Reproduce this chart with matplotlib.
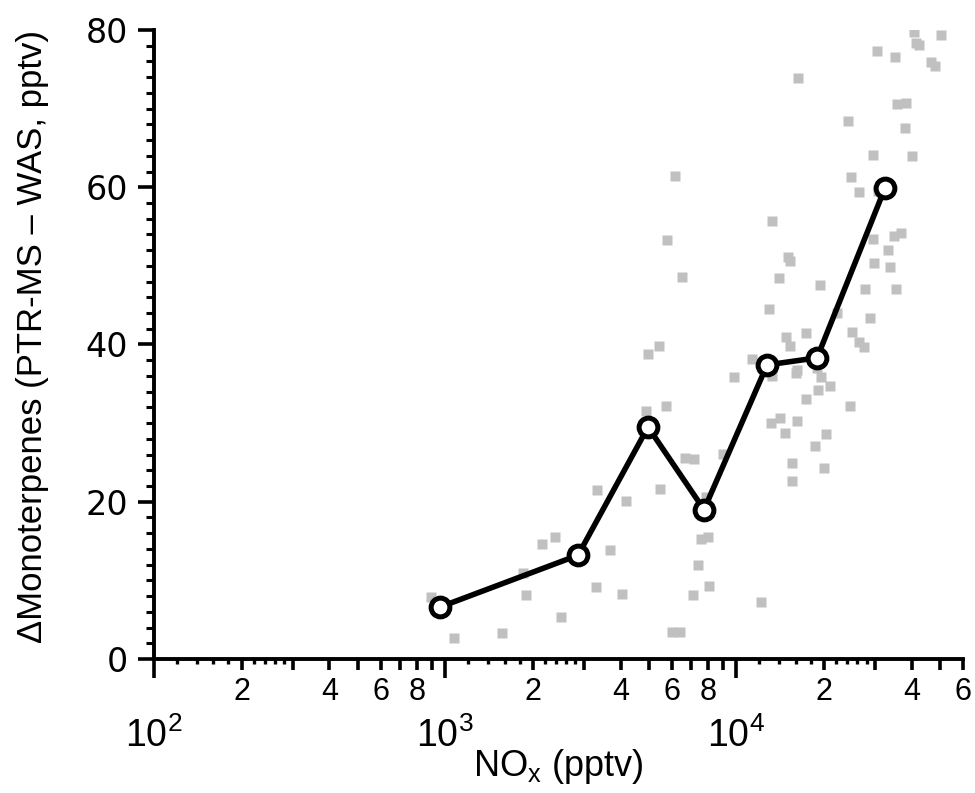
import numpy as np
import matplotlib
matplotlib.use("Agg")
from matplotlib import pyplot as plt
from matplotlib.ticker import FixedLocator, FixedFormatter, NullFormatter

plt.rcParams["font.family"] = ["Liberation Sans", "DejaVu Sans"]
plt.rcParams["mathtext.fontset"] = "custom"
plt.rcParams["mathtext.rm"] = "Liberation Sans"
plt.rcParams["mathtext.it"] = "Liberation Sans:italic"

# individual samples (grey squares)
nox = [6153, 5777, 6504, 40729, 50424, 41382, 42375, 30397, 35052, 46603, 48097,
       16275, 35614, 38241, 24166, 37942, 29452, 40087, 24746, 26363, 30643, 13253,
       29452, 34779, 36756, 33167, 15039, 15280, 29684, 33699, 14008, 19372, 27644,
       35335, 12940, 22156, 28762, 14802, 15280, 17338, 24946, 26363, 27428, 11315,
       9812, 13253, 16148, 16022, 18918, 19525, 20963, 19067, 17338, 24553, 13148,
       14118, 16148, 14687, 20313, 18620, 15522, 19993, 15522, 6660, 7152, 8995,
       7863, 7558, 7989, 7381, 8052, 7096, 12147, 5424, 4972, 4894, 5732, 3320,
       4178, 5467, 2384, 2150, 3680, 1850, 1894, 3294, 4047, 894, 2498, 1567, 1072,
       6009, 6402]
delta_mt = [61.4, 53.3, 48.6, 79.8, 79.4, 78.4, 78.1, 77.3, 76.6, 75.9, 75.4,
            73.9, 70.6, 70.7, 68.4, 67.5, 64.1, 64.0, 61.3, 59.4, 59.5, 55.7,
            53.4, 53.8, 54.2, 52.0, 51.1, 50.6, 50.4, 49.9, 48.5, 47.6, 47.1,
            47.1, 44.5, 44.0, 43.4, 41.0, 39.8, 41.5, 41.6, 40.3, 39.7, 38.2,
            35.9, 36.0, 36.8, 36.4, 37.0, 35.9, 34.7, 34.2, 33.1, 32.2, 30.0,
            30.7, 30.3, 28.7, 28.6, 27.1, 24.9, 24.3, 22.6, 25.6, 25.4, 26.1,
            20.6, 15.3, 15.5, 12.0, 9.3, 8.1, 7.3, 39.8, 38.8, 31.5, 32.2, 21.5,
            20.1, 21.6, 15.5, 14.6, 13.9, 10.9, 8.1, 9.2, 8.3, 7.9, 5.3, 3.3, 2.7,
            3.4, 3.4]

# binned means
bin_nox = [959, 2858, 4970, 7740, 12740, 18920, 32370]
bin_mt = [6.6, 13.2, 29.5, 19.0, 37.4, 38.3, 59.9]

x_major = [1e2, 1e3, 1e4]
x_major_labels = [r"$10^{2}$", r"$10^{3}$", r"$10^{4}$"]
x_minor = [m * 10.0 ** d for d in (2, 3, 4) for m in range(2, 10) if m * 10.0 ** d <= 6e4]
x_minor_labels = [str(int(round(v / 10 ** np.floor(np.log10(v))))) if int(round(v / 10 ** np.floor(np.log10(v)))) in (2, 4, 6, 8) else "" for v in x_minor]
x_fine = [m * 10.0 ** d for d in (2, 3, 4) for m in (1.2, 1.4, 1.6, 1.8, 2.2, 2.4, 2.6, 2.8)]

fig = plt.figure(figsize=(9.75, 7.93), dpi=100)
ax = fig.add_axes([0.158, 0.169, 0.8297, 0.7932])

ax.plot(nox, delta_mt, ls="none", marker="s", ms=7.5, mfc="#c0c0c0", mec="none", zorder=2)
ax.plot(bin_nox, bin_mt, c="k", lw=4.0, marker="o", ms=13.5, mfc="w", mec="k", mew=3.6, zorder=3)

ax.set_xscale("log")
ax.set_xlim(100, 6e4)
ax.set_ylim(0, 80)

for side in ("top", "right"):
    ax.spines[side].set_visible(False)
for side in ("left", "bottom"):
    ax.spines[side].set_linewidth(2.8)

ax.xaxis.set_major_locator(FixedLocator(x_major))
ax.xaxis.set_major_formatter(FixedFormatter(x_major_labels))
ax.xaxis.set_minor_locator(FixedLocator(x_minor))
ax.xaxis.set_minor_formatter(FixedFormatter(x_minor_labels))
ax.tick_params(axis="x", which="major", direction="out", length=14, width=2.6, pad=28, labelsize=27)
ax.tick_params(axis="x", which="minor", direction="out", length=8, width=2.6, pad=5, labelsize=22)

# extra short ticks inside the first parts of each decade
sec = ax.secondary_xaxis("bottom")
sec.xaxis.set_major_locator(FixedLocator(x_fine))
sec.xaxis.set_major_formatter(NullFormatter())
sec.xaxis.set_minor_locator(FixedLocator([]))
sec.tick_params(which="major", direction="out", length=3.5, width=2.4)
sec.spines["bottom"].set_visible(False)

ax.set_yticks([0, 20, 40, 60, 80])
ax.set_yticks(np.arange(0, 81, 2), minor=True)
ax.tick_params(axis="y", which="major", direction="out", length=11.5, width=2.6, pad=7,
               labelsize=24, labelfontfamily="DejaVu Sans")
ax.tick_params(axis="y", which="minor", direction="out", length=6, width=2.2)

ax.set_xlabel(r"NO$_{\mathrm{x}}$ (pptv)", fontsize=26)
ax.xaxis.set_label_coords(0.5, -0.14)
ax.set_ylabel("ΔMonoterpenes (PTR-MS – WAS, pptv)", fontsize=25)
ax.yaxis.set_label_coords(-0.13, 0.513)

plt.savefig("out.png", dpi=100)
